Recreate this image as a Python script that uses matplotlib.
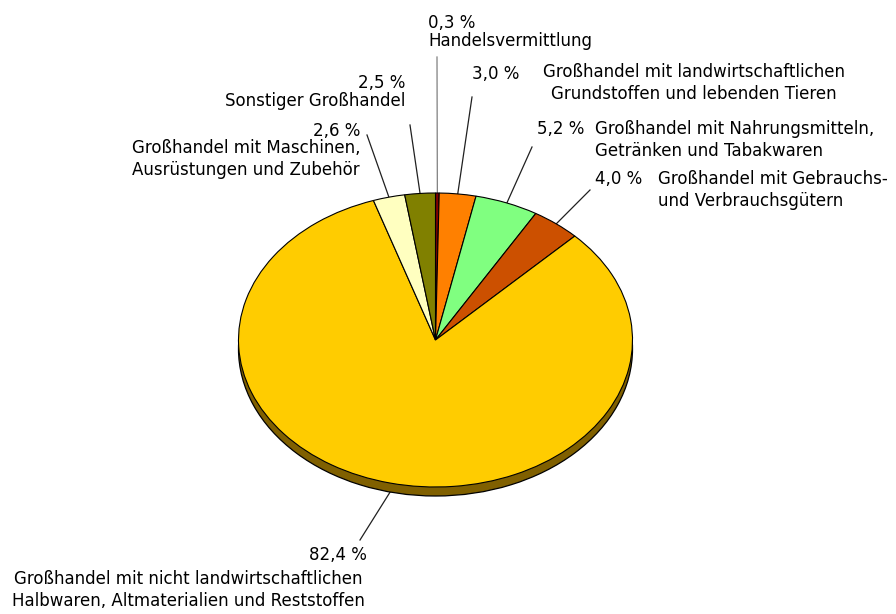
import numpy as np
import matplotlib.pyplot as plt

# shares of the trade sectors, clockwise from the top
shares = [0.3, 3.0, 5.2, 4.0, 82.4, 2.6, 2.5]
pct_labels = ['0,3 %', '3,0 %', '5,2 %', '4,0 %', '82,4 %', '2,6 %', '2,5 %']
names = ['Handelsvermittlung',
         'Großhandel mit landwirtschaftlichen\nGrundstoffen und lebenden Tieren',
         'Großhandel mit Nahrungsmitteln,\nGetränken und Tabakwaren',
         'Großhandel mit Gebrauchs-\nund Verbrauchsgütern',
         'Großhandel mit nicht landwirtschaftlichen\nHalbwaren, Altmaterialien und Reststoffen',
         'Großhandel mit Maschinen,\nAusrüstungen und Zubehör',
         'Sonstiger Großhandel']
colors = ['#800000', '#FF8000', '#80FF80', '#CC5000', '#FFCC00', '#FFFFC0', '#808000']
rim_color = '#806000'

# layout in pixels (y down)
W, H = 896, 614
cx, cy, rx, ry, depth = 435.5, 340, 197, 147, 9
# (x, y, ha) for percent text, (x, y, ha, multialign) for name text, leader start
pct_pos = [(428, 23, 'left'), (472, 74, 'left'), (537, 129, 'left'), (595, 179, 'left'),
           (367, 555, 'right'), (360, 131, 'right'), (405, 83, 'right')]
name_pos = [(428, 41, 'left', 'left'), (694, 83, 'center', 'center'), (595, 140, 'left', 'left'),
            (658, 190, 'left', 'left'), (188, 590, 'center', 'center'), (360, 159, 'right', 'left'),
            (405, 101, 'right', 'right')]
leader_start = [(437, 57), (472, 97), (532, 147), (590, 190), (360, 540), (367, 135), (410, 125)]
leader_col = ['#808080', '#202020', '#202020', '#202020', '#202020', '#202020', '#202020']

fig = plt.figure(figsize=(W / 100, H / 100), dpi=100)
ov = fig.add_axes([0, 0, 1, 1])
ov.set_xlim(0, W)
ov.set_ylim(H, 0)
ov.axis('off')

def box(top_y):
    return [(cx - rx) / W, (H - top_y - 2 * ry) / H, 2 * rx / W, 2 * ry / H]

# shadow rim under the disc
rim = fig.add_axes(box(cy - ry + depth))
rim.pie([1], colors=[rim_color], wedgeprops=dict(edgecolor='black', linewidth=0.9))
rim.set_xlim(-1, 1)
rim.set_ylim(-1, 1)
rim.set_aspect('auto')
rim.axis('off')

top = fig.add_axes(box(cy - ry))
top.pie(shares, colors=colors, startangle=90, counterclock=False,
        wedgeprops=dict(edgecolor='black', linewidth=0.8))
top.set_xlim(-1, 1)
top.set_ylim(-1, 1)
top.set_aspect('auto')
top.axis('off')

fs = 12
cum = np.cumsum([0] + shares[:-1])
for i, s in enumerate(shares):
    phi = 2 * np.pi * (cum[i] + s / 2) / 100
    ax_x = cx + rx * np.sin(phi)
    ax_y = cy - ry * np.cos(phi)
    if np.cos(phi) < 0:
        ax_y += depth
    x0, y0 = leader_start[i]
    ov.plot([x0, ax_x], [y0, ax_y], color=leader_col[i], lw=0.9)
    px, py, pha = pct_pos[i]
    ov.text(px, py, pct_labels[i], ha=pha, va='center', fontsize=fs)
    nx, ny, nha, nma = name_pos[i]
    ov.text(nx, ny, names[i], ha=nha, va='center', multialignment=nma,
            fontsize=fs, linespacing=1.25)

fig.savefig('out.png', dpi=100)
